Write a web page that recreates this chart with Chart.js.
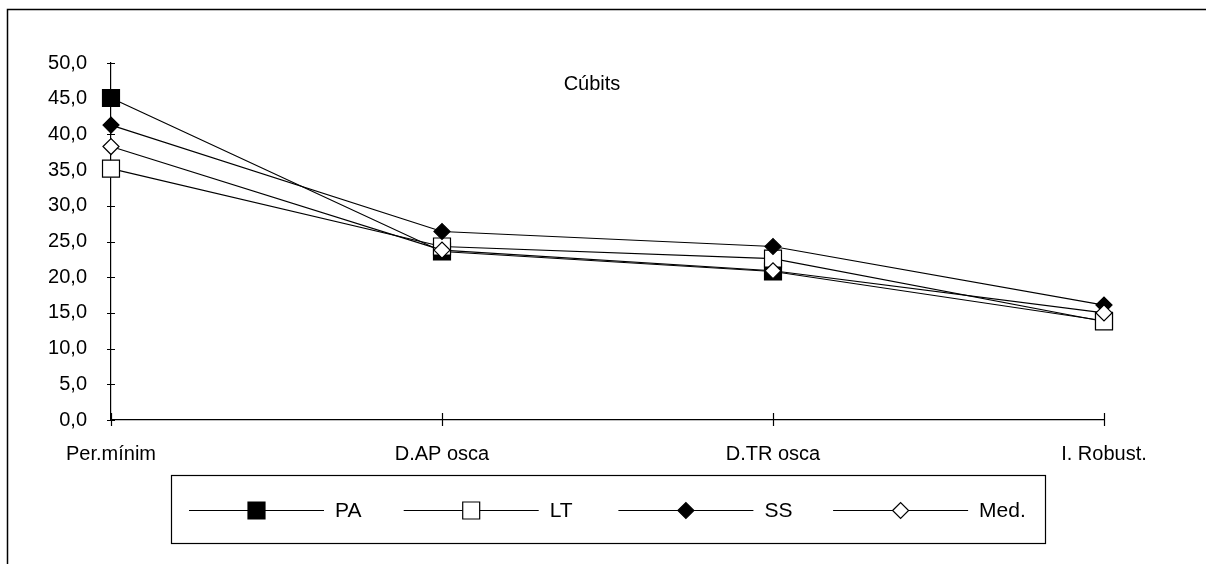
<html>
<head>
	<meta charset="utf-8"/>
	<title>Cúbits</title>
	<script src="https://cdn.jsdelivr.net/npm/chart.js"></script>
	<style>
		body { margin: 0; background: #fff; }
		#wrap { width: 1206px; height: 564px; position: relative; }
	</style>
</head>
<body>
<div id="wrap"><canvas id="cubitsChart"></canvas></div>
<script type="text/javascript">

	// values
	const categories = ['Per.mínim', 'D.AP osca', 'D.TR osca', 'I. Robust.'];
	const seriesNames = ['PA', 'LT', 'SS', 'Med.'];
	const dataPA = [45.1, 23.6, 20.8, 13.9];
	const dataLT = [35.2, 24.3, 22.6, 13.8];
	const dataSS = [41.3, 26.4, 24.3, 16.1];
	const dataMed = [38.3, 23.8, 20.9, 15.0];
	const yMin = 0, yMax = 50, yStep = 5;
	const chartTitle = 'Cúbits';

	const fontFamily = "'Liberation Sans', Arial, sans-serif";

	function series(label, data, style, fill, radius, order) {
		return {
			label: label,
			data: data,
			borderColor: '#000',
			borderWidth: 1.2,
			pointStyle: style,
			pointRadius: radius,
			pointHoverRadius: radius,
			pointBackgroundColor: fill,
			pointBorderColor: '#000',
			pointBorderWidth: 1.2,
			tension: 0,
			order: order
		};
	}

	function drawMarker(ctx, style, radius, fill, x, y) {
		ctx.save();
		ctx.fillStyle = fill;
		ctx.strokeStyle = '#000';
		ctx.lineWidth = 1.2;
		ctx.beginPath();
		if (style === 'rect') {
			const s = radius * Math.SQRT1_2;
			ctx.rect(x - s, y - s, 2 * s, 2 * s);
		} else {
			ctx.moveTo(x - radius, y);
			ctx.lineTo(x, y - radius);
			ctx.lineTo(x + radius, y);
			ctx.lineTo(x, y + radius);
			ctx.closePath();
		}
		ctx.fill();
		ctx.stroke();
		ctx.restore();
	}

	// frame, crossing tick marks, title and the boxed legend
	const decor = {
		id: 'decor',
		beforeDraw(chart) {
			const ctx = chart.ctx;
			ctx.save();
			ctx.fillStyle = '#fff';
			ctx.fillRect(0, 0, chart.width, chart.height);
			ctx.strokeStyle = '#000';
			ctx.lineWidth = 1.5;
			ctx.beginPath();
			ctx.moveTo(7.5, chart.height);
			ctx.lineTo(7.5, 9.5);
			ctx.lineTo(chart.width, 9.5);
			ctx.stroke();
			ctx.restore();
		},
		beforeDatasetsDraw(chart) {
			// tick marks cross the axes, markers are drawn over them
			const ctx = chart.ctx;
			const area = chart.chartArea;
			const ys = chart.scales.y, xs = chart.scales.x;
			ctx.save();
			ctx.strokeStyle = '#000';
			ctx.lineWidth = 1.2;
			ctx.beginPath();
			ys.ticks.forEach((t, i) => {
				const y = Math.round(ys.getPixelForTick(i)) + 0.5;
				ctx.moveTo(area.left - 4, y);
				ctx.lineTo(area.left + 4, y);
			});
			xs.ticks.forEach((t, i) => {
				const x = Math.round(xs.getPixelForTick(i)) + 0.5;
				ctx.moveTo(x, area.bottom - 7);
				ctx.lineTo(x, area.bottom + 6);
			});
			ctx.stroke();
			ctx.restore();
		},
		afterDraw(chart) {
			const ctx = chart.ctx;
			ctx.save();
			ctx.strokeStyle = '#000';

			// title
			ctx.fillStyle = '#000';
			ctx.font = '20px ' + fontFamily;
			ctx.textAlign = 'center';
			ctx.textBaseline = 'middle';
			ctx.fillText(chartTitle, 592, 84);

			// legend box
			ctx.lineWidth = 1.2;
			ctx.strokeRect(171.5, 475.5, 874, 68);
			ctx.font = '21px ' + fontFamily;
			ctx.textAlign = 'left';
			chart.data.datasets.forEach((ds, i) => {
				const x0 = 189 + i * 214.7, y = 510.5;
				ctx.beginPath();
				ctx.moveTo(x0, y);
				ctx.lineTo(x0 + 135, y);
				ctx.stroke();
				drawMarker(ctx, ds.pointStyle, ds.pointRadius, ds.pointBackgroundColor, x0 + 67.5, y);
				ctx.fillStyle = '#000';
				ctx.fillText(ds.label, x0 + 146, y + 1);
			});
			ctx.restore();
		}
	};

	const dataCubits = {
		labels: categories,
		datasets: [
			series(seriesNames[0], dataPA, 'rect', '#000', 12, 4),
			series(seriesNames[1], dataLT, 'rect', '#fff', 12, 3),
			series(seriesNames[2], dataSS, 'rectRot', '#000', 8, 2),
			series(seriesNames[3], dataMed, 'rectRot', '#fff', 8, 1)
		]
	};

	const configCubits = {
		type: 'line',
		data: dataCubits,
		options: {
			responsive: true,
			maintainAspectRatio: false,
			animation: false,
			events: [],
			layout: { padding: { left: 0, right: 102, top: 63, bottom: 84 } },
			plugins: { legend: { display: false }, tooltip: { enabled: false } },
			scales: {
				x: {
					offset: false,
					grid: { display: false },
					border: { display: true, color: '#000', width: 1.2 },
					ticks: { color: '#000', font: { family: fontFamily, size: 20 }, padding: 14, maxRotation: 0, autoSkip: false },
					afterFit: (s) => { s.height = 60; }
				},
				y: {
					min: yMin,
					max: yMax,
					grid: { display: false },
					border: { display: true, color: '#000', width: 1.2 },
					ticks: {
						stepSize: yStep,
						color: '#000',
						font: { family: fontFamily, size: 20 },
						padding: 16,
						callback: (v) => v.toFixed(1).replace('.', ',')
					},
					afterFit: (s) => { s.width = 111; }
				}
			}
		},
		plugins: [decor]
	};

	const cubitsChart = new Chart(document.getElementById('cubitsChart'), configCubits);
</script>
</body>
</html>
